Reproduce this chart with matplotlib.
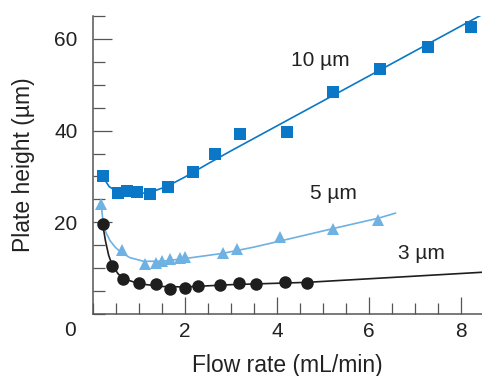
import matplotlib
matplotlib.use("Agg")
import matplotlib.pyplot as plt
from matplotlib.ticker import MultipleLocator

plt.rcParams["font.family"] = ["Liberation Sans", "DejaVu Sans"]

# measured points, 10 um particles
flow_10 = [0.21, 0.54, 0.74, 0.95, 1.24, 1.62, 2.18, 2.65, 3.20, 4.21, 5.21, 6.24, 7.28, 8.22]
h_10 = [30.0, 26.3, 26.8, 26.6, 26.2, 27.7, 30.9, 34.8, 39.3, 39.8, 48.5, 53.4, 58.3, 62.5]
# measured points, 5 um particles
flow_5 = [0.17, 0.62, 1.13, 1.37, 1.49, 1.67, 1.88, 1.99, 2.83, 3.12, 4.07, 5.22, 6.20]
h_5 = [24.1, 13.9, 10.9, 11.2, 11.6, 12.0, 12.3, 12.5, 13.2, 14.1, 16.7, 18.6, 20.4]
# measured points, 3 um particles
flow_3 = [0.21, 0.42, 0.66, 0.99, 1.36, 1.67, 1.99, 2.27, 2.76, 3.17, 3.54, 4.17, 4.64]
h_3 = [19.6, 10.5, 7.7, 6.7, 6.5, 5.4, 5.6, 6.1, 6.3, 6.7, 6.5, 7.0, 6.7]

# fitted curves
fit_x_10 = [0.21, 0.35, 0.5, 0.8, 1.2, 1.6, 2.0, 2.5, 3.0, 8.45]
fit_y_10 = [30.0, 27.8, 26.8, 26.3, 26.4, 27.8, 29.9, 32.8, 35.6, 65.3]
fit_x_5 = [0.17, 0.22, 0.28, 0.37, 0.48, 0.6, 0.8, 1.1, 1.5, 2.0, 2.8, 3.5, 4.1, 5.2, 6.2, 6.57]
fit_y_5 = [24.5, 20.0, 17.8, 16.0, 14.6, 13.5, 12.3, 11.5, 11.5, 12.1, 13.2, 14.6, 16.0, 18.6, 20.9, 22.0]
fit_x_3 = [0.21, 0.27, 0.34, 0.42, 0.55, 0.7, 1.0, 1.5, 2.0, 3.0, 4.64, 8.45]
fit_y_3 = [19.6, 16.0, 12.8, 10.6, 8.7, 7.6, 6.6, 6.0, 5.9, 6.4, 6.9, 9.1]

labels = ["10 \u00b5m", "5 \u00b5m", "3 \u00b5m"]
label_pos = [(4.93, 55.2), (5.22, 26.3), (7.14, 13.2)]

dark_blue = "#0a78c6"
light_blue = "#6eb1e3"
black = "#1e1e1e"
text_col = "#222222"

fig = plt.figure(figsize=(4.82, 3.76), dpi=100)
ax = fig.add_axes([93 / 482, 62 / 376, 389 / 482, 298 / 376])

ax.plot(fit_x_10, fit_y_10, color=dark_blue, lw=1.2, zorder=2)
ax.plot(fit_x_5, fit_y_5, color=light_blue, lw=1.2, zorder=2)
ax.plot(fit_x_3, fit_y_3, color=black, lw=1.2, zorder=2)
ax.plot(flow_10, h_10, "s", color=dark_blue, ms=8.5, mew=0, zorder=3, clip_on=False)
ax.plot(flow_5, h_5, "^", color=light_blue, ms=9, mew=0, zorder=3, clip_on=False)
ax.plot(flow_3, h_3, "o", color=black, ms=9, mew=0, zorder=3, clip_on=False)

for text, (x, y) in zip(labels, label_pos):
    ax.text(x, y, text, ha="center", va="center", fontsize=15, color=text_col)

ax.set_xlim(0, 8.45)
ax.set_ylim(0, 65)
for side in ("top", "right"):
    ax.spines[side].set_visible(False)
for side in ("left", "bottom"):
    ax.spines[side].set_color("#555555")
    ax.spines[side].set_linewidth(1.1)

ax.xaxis.set_minor_locator(MultipleLocator(0.5))
ax.yaxis.set_minor_locator(MultipleLocator(5))
ax.set_xticks([2, 4, 6, 8])
ax.set_yticks([20, 40, 60])
ax.tick_params(axis="x", which="major", direction="in", length=12, width=0.9,
               color="#555555", pad=6, labelsize=15, labelcolor=text_col)
ax.tick_params(axis="x", which="minor", direction="in", length=8, width=0.9, color="#555555")
ax.tick_params(axis="y", which="major", direction="in", length=14, width=0.9,
               color="#555555", pad=11, labelsize=15, labelcolor=text_col)
ax.tick_params(axis="y", which="minor", direction="in", length=8.5, width=0.9, color="#555555")
ax.text(-0.5, -3.5, "0", ha="center", va="center", fontsize=15, color=text_col, clip_on=False)

ax.set_xlabel("Flow rate (mL/min)", fontsize=16.5, color=text_col, labelpad=9)
ax.set_ylabel("Plate height (\u00b5m)", fontsize=16.5, color=text_col, labelpad=14)

fig.savefig("out.png")
